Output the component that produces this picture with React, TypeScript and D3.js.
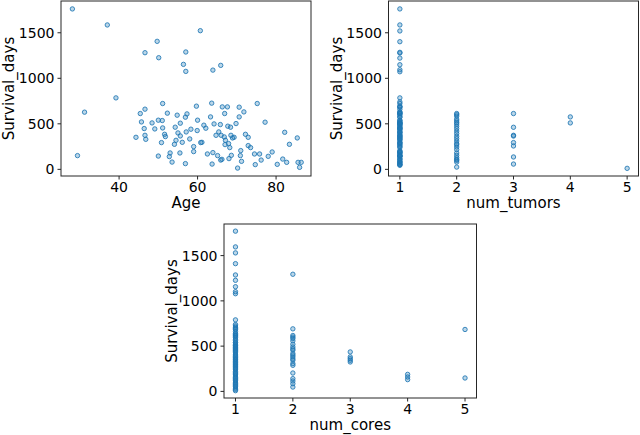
import * as d3 from 'd3'

// panel 1: Age vs Survival_days
const ages = [28.1,37.0,60.7,49.7,46.6,57.0,50.1,56.4,57.0,63.9,65.9,39.2,31.2,29.4,51.1,46.6,45.4,52.3,54.8,57.3,56.9,59.7,63.6,66.3,67.6,70.6,71.8,75.2,66.9,70.6,63.3,60.0,45.7,48.4,50.0,51.0,55.6,54.3,46.4,49.1,51.1,58.3,59.9,61.6,62.1,64.2,65.8,67.7,68.4,69.8,55.0,57.1,
  55.6,51.6,51.8,44.3,46.6,46.8,50.8,54.1,54.5,56.1,58.0,60.8,61.1,59.0,59.0,62.5,63.9,65.1,64.7,65.4,66.0,66.8,67.1,67.0,67.9,68.2,68.5,68.9,69.3,68.6,66.2,65.9,68.0,70.2,70.9,71.0,71.2,72.2,72.9,72.9,73.5,74.5,74.7,75.8,76.2,77.2,78.0,79.0,80.3,81.7,82.2,82.7,83.4,85.4,85.6,86.4,86.0,56.9,63.7,53.5,52.8,53.0,55.5,50.0]
const ageDays = [1762,1586,1523,1406,1281,1289,1226,1153,1076,1090,1142,785,628,151,723,661,613,617,595,609,573,694,727,686,686,683,631,723,613,576,576,540,521,510,540,536,507,463,448,444,455,441,426,485,452,499,492,474,463,503,400,411,
  367,385,360,352,374,330,294,275,319,297,334,294,297,250,195,169,184,151,374,411,374,356,319,272,283,239,374,345,352,154,110,102,118,14,151,206,88,385,352,261,239,169,52,169,102,518,143,191,55,113,407,77,275,345,77,77,22,63,58,80,140,180,180,146]

// panel 2: num_tumors vs Survival_days
const tumors1 = [1762,1586,1520,1402,1285,1278,1222,1149,1094,1072,785,741,723,694,686,683,661,631,628,617,613,609,595,576,573,540,536,521,518,510,507,503,499,492,485,474,463,455,452,444,441,426,411,407,400,385,374,367,360,352,345,334,330,319,297,294,283,275,261,250,239,206,195,191,184,180,169,154,151,146,143,140,118,113,102,88,80,77,63,55,52,44]
const tumors2 = [613,600,584,551,532,514,497,473,448,420,393,363,338,311,283,270,245,217,180,154,129,110,99,80,25]
const tumors3 = [613,462,374,366,294,257,136,58]
const tumors4 = [576,510]
const tumors5 = [11]

// panel 3: num_cores vs Survival_days
const cores1 = [1770,1596,1530,1411,1286,1227,1156,1101,1079,790,739,723,708,694,683,661,640,628,617,609,595,576,561,540,536,521,510,503,492,485,474,463,452,441,426,411,400,385,374,360,352,345,330,319,305,297,283,275,261,250,239,221,206,195,184,169,154,143,129,118,102,88,77,63,52,36,22,8]
const cores2 = [1294,691,617,600,584,558,521,491,470,455,418,400,381,360,344,307,288,203,141,115,85,48]
const cores3 = [436,381,362,344,325]
const cores4 = [188,159,130]
const cores5 = [684,148]

const yTicks = [0, 500, 1000, 1500]
const ageTicks = [40, 60, 80]
const countTicks = [1, 2, 3, 4, 5]

const BLUE = '#1f77b4'
const FONT = 'DejaVu Sans, sans-serif'

type Pt = { x: number; y: number }

function groups(lists: number[][]): Pt[] {
  const out: Pt[] = []
  lists.forEach((vals, i) => vals.forEach(v => out.push({ x: i + 1, y: v })))
  return out
}

function Panel({ pts, box, xDomain, xTicks, xLabel }: {
  pts: Pt[]
  box: { l: number; r: number; t: number; b: number }
  xDomain: [number, number]
  xTicks: number[]
  xLabel: string
}) {
  const x = d3.scaleLinear().domain(xDomain).range([box.l, box.r])
  const y = d3.scaleLinear().domain([-73, 1849]).range([box.b, box.t])
  return (
    <g>
      {pts.map((p, i) => (
        <circle key={i} cx={x(p.x)} cy={y(p.y)} r={2.2}
          fill={BLUE} fillOpacity={0.3} stroke={BLUE} strokeOpacity={0.85} strokeWidth={1} />
      ))}
      <rect x={box.l} y={box.t} width={box.r - box.l} height={box.b - box.t}
        fill="none" stroke="#262626" strokeWidth={1} />
      {yTicks.map(t => (
        <g key={t}>
          <line x1={box.l - 3.5} x2={box.l} y1={y(t)} y2={y(t)} stroke="#262626" />
          <text x={box.l - 6.5} y={y(t)} dy="0.36em" textAnchor="end" fontSize={14}>{t}</text>
        </g>
      ))}
      {xTicks.map(t => (
        <g key={t}>
          <line x1={x(t)} x2={x(t)} y1={box.b} y2={box.b + 3.5} stroke="#262626" />
          <text x={x(t)} y={box.b + 16} textAnchor="middle" fontSize={14}>{t}</text>
        </g>
      ))}
      <text x={(box.l + box.r) / 2} y={box.b + 32} textAnchor="middle" fontSize={15}>{xLabel}</text>
      <text transform={`translate(${box.l - 47},${(box.t + box.b) / 2}) rotate(-90)`}
        textAnchor="middle" fontSize={15}>Survival_days</text>
    </g>
  )
}

export default function App() {
  const agePts = ages.map((a, i) => ({ x: a, y: ageDays[i] }))
  const tumorPts = groups([tumors1, tumors2, tumors3, tumors4, tumors5])
  const corePts = groups([cores1, cores2, cores3, cores4, cores5])
  return (
    <svg width={640} height={435} style={{ position: 'absolute', left: 0, top: 0, fontFamily: FONT }}>
      <rect width={640} height={435} fill="#fff" />
      <Panel pts={agePts} box={{ l: 61, r: 311, t: 1, b: 176 }} xDomain={[25.2, 88.9]} xTicks={ageTicks} xLabel="Age" />
      <Panel pts={tumorPts} box={{ l: 388.5, r: 638.5, t: 1, b: 176 }} xDomain={[0.8, 5.2]} xTicks={countTicks} xLabel="num_tumors" />
      <Panel pts={corePts} box={{ l: 224, r: 476.5, t: 224, b: 398 }} xDomain={[0.8, 5.2]} xTicks={countTicks} xLabel="num_cores" />
    </svg>
  )
}
